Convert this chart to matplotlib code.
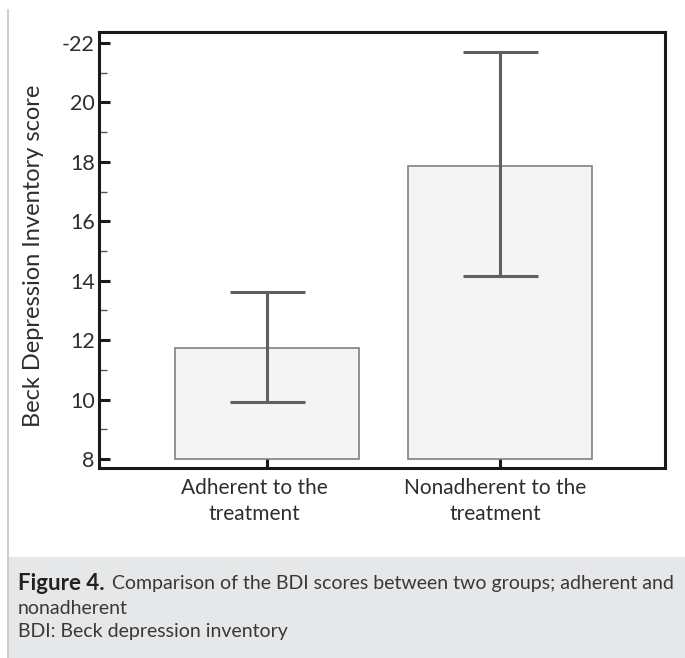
import matplotlib
matplotlib.use("Agg")
import matplotlib.pyplot as plt
from matplotlib.patches import Rectangle
from matplotlib.lines import Line2D
from matplotlib.ticker import FixedLocator, MultipleLocator

plt.rcParams['font.family'] = ['Lato', 'DejaVu Sans']

# Group means and 95% CI bounds of BDI scores
groups = ["Adherent to the\ntreatment", "Nonadherent to the\ntreatment"]
means = [11.75, 17.87]
ci_low = [9.92, 14.15]
ci_high = [13.61, 21.69]
baseline = 8
ytick_values = [8, 10, 12, 14, 16, 18, 20, 22]
ytick_labels = ["8", "10", "12", "14", "16", "18", "20", "-22"]

TEXT = "#2e2e2e"
W, H = 685, 658
fig = plt.figure(figsize=(W / 100, H / 100), dpi=100)
fig.patch.set_facecolor("white")

# caption panel
fig.add_artist(Rectangle((8 / W, 0), 1 - 8 / W, 101 / H, transform=fig.transFigure,
                         facecolor="#e6e7e9", edgecolor="none", zorder=0))
fig.add_artist(Line2D([8 / W, 8 / W], [0, 1 - 10 / H], transform=fig.transFigure,
                      color="#c4c4c4", lw=1.2))

ax = fig.add_axes([99 / W, (H - 468) / H, (665 - 99) / W, (468 - 32) / H])

x = list(range(len(groups)))
heights = [m - baseline for m in means]
ax.bar(x, heights, bottom=baseline, width=0.79, color="#f4f4f4",
       edgecolor="#808080", linewidth=1.2, zorder=2)
yerr = [[m - lo for m, lo in zip(means, ci_low)],
        [hi - m for m, hi in zip(means, ci_high)]]
ax.errorbar(x, means, yerr=yerr, fmt="none", ecolor="#606060",
            elinewidth=2.2, capsize=27, capthick=2.2, zorder=3)

ax.set_xlim(-0.72, 1.71)
ax.set_ylim(7.7, 22.37)

ax.yaxis.set_major_locator(FixedLocator(ytick_values))
ax.set_yticklabels(ytick_labels)
ax.yaxis.set_minor_locator(MultipleLocator(1))
ax.set_xticks(x)
ax.set_xticklabels([])

# category labels, slightly left of their ticks
xform = ax.get_xaxis_transform()
for xi, name, dx in zip(x, groups, [-9, -3]):
    ax.annotate(name, xy=(xi, 0), xycoords=xform, xytext=(dx, -7),
                textcoords="offset points", ha="center", va="top",
                fontsize=15, color=TEXT, linespacing=1.38, annotation_clip=False)

ax.tick_params(axis="y", which="major", direction="in", length=8, width=2.2,
               color="#1a1a1a", labelsize=15.5, labelcolor=TEXT, pad=3)
ax.tick_params(axis="y", which="minor", direction="in", length=6, width=1,
               color="#555555")
ax.tick_params(axis="x", which="major", direction="in", length=7, width=2.2,
               color="#1a1a1a")

for sp in ax.spines.values():
    sp.set_linewidth(2.2)
    sp.set_color("#1a1a1a")

ax.set_ylabel("Beck Depression Inventory score", fontsize=17, color=TEXT)
ax.yaxis.set_label_coords(-0.098, 0.486)

# caption text
fig.canvas.draw()
renderer = fig.canvas.get_renderer()
head = fig.text(18 / W, 1 - 583 / H, "Figure 4.", fontsize=16, color="#222222",
                fontweight="bold", va="center", ha="left")
head_end = head.get_window_extent(renderer).x1
fig.text((head_end + 7) / W, 1 - 583 / H,
         "Comparison of the BDI scores between two groups; adherent and",
         fontsize=14, color="#383838", va="center", ha="left")
fig.text(18 / W, 1 - 609 / H, "nonadherent", fontsize=14, color="#383838",
         va="center", ha="left")
fig.text(18 / W, 1 - 632 / H, "BDI: Beck depression inventory", fontsize=14,
         color="#383838", va="center", ha="left")

fig.savefig("out.png", dpi=100)
